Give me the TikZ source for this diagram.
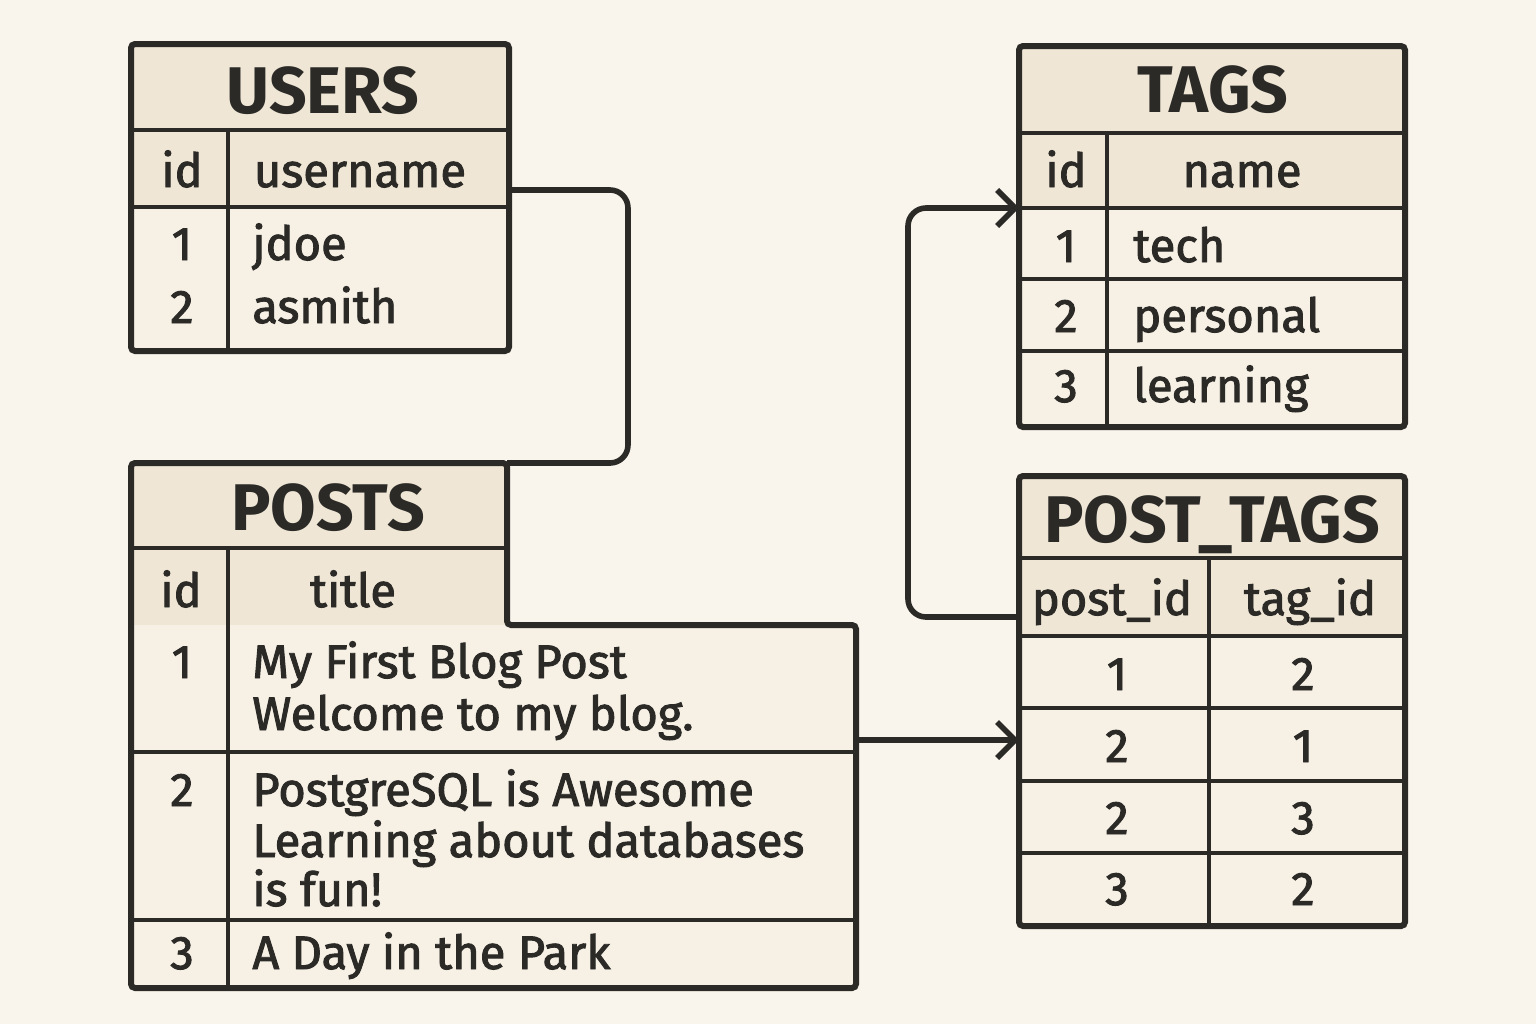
\documentclass[tikz,border=0pt]{standalone}
\usepackage{fontspec}
\setmainfont{Fira Sans}
\newfontfamily\bodyf[FakeBold=2]{Fira Sans}
\usetikzlibrary{arrows.meta}
\definecolor{bg}{HTML}{F9F5EC}
\definecolor{hdr}{HTML}{EFE6D5}
\definecolor{dat}{HTML}{F6F0E5}
\definecolor{ink}{HTML}{2B2A27}
\begin{document}
\begin{tikzpicture}[x=0.5pt,y=-0.5pt,
  outer/.style={draw=ink,line width=3pt,rounded corners=2pt},
  inner/.style={draw=ink,line width=2.4pt},
  conn/.style={draw=ink,line width=2.8pt,rounded corners=9pt},
  tip/.style={-{Straight Barb[length=9pt,width=18pt]}},
  ttl/.style={font=\fontsize{33}{36}\selectfont\bfseries,anchor=base,inner sep=0,text=ink},
  txt/.style={font=\bodyf\fontsize{23.5}{26}\selectfont,anchor=base,inner sep=0,text=ink},
  txtl/.style={txt,anchor=base west}]
\useasboundingbox (0,0) rectangle (1536,1024);
\fill[bg] (0,0) rectangle (1536,1024);

% ---------- USERS ----------
\fill[hdr] (131,44) rectangle (509,207);
\fill[dat] (131,207) rectangle (509,351);
\draw[inner] (131,130) -- (509,130) (131,207) -- (509,207) (228,130) -- (228,351);
\draw[outer] (131,44) rectangle (509,351);
\coordinate (usersR) at (509,190);
\node[ttl] (usersT) at (323,113) {USERS};
\node[txt] (usersH1) at (182,187) {id};
\node[txt] (usersH2) at (360,187) {username};
\node[txt] (usersId1) at (182,260) {1};
\node[txtl] (usersN1) at (252,260) {jdoe};
\node[txt] (usersId2) at (182,323) {2};
\node[txtl] (usersN2) at (252,323) {asmith};

% ---------- POSTS ----------
\fill[hdr] (131,463) rectangle (507,625);
\fill[dat] (131,625) rectangle (856,988);
\draw[inner] (131,548) -- (507,548) (131,752) -- (856,752) (131,920) -- (856,920) (228,548) -- (228,988);
\draw[outer] (131,463) -- (507,463) -- (507,625) -- (856,625) -- (856,988) -- (131,988) -- cycle;
\coordinate (postsTop) at (507,463);
\coordinate (postsR) at (856,740);
\node[ttl] (postsT) at (328,530) {POSTS};
\node[txt] (postsH1) at (181,607) {id};
\node[txt] (postsH2) at (353,607) {title};
\node[txt] (postsId1) at (182,678) {1};
\node[txtl] (postsA1) at (252,678) {My First Blog Post};
\node[txtl] (postsB1) at (252,730) {Welcome to my blog.};
\node[txt] (postsId2) at (182,806) {2};
\node[txtl] (postsA2) at (252,806) {PostgreSQL is Awesome};
\node[txtl] (postsB2) at (252,857) {Learning about databases};
\node[txtl] (postsC2) at (252,906) {is fun!};
\node[txt] (postsId3) at (182,969) {3};
\node[txtl] (postsA3) at (252,969) {A Day in the Park};

% ---------- TAGS ----------
\fill[hdr] (1019,46) rectangle (1405,208);
\fill[dat] (1019,208) rectangle (1405,427);
\draw[inner] (1019,133) -- (1405,133) (1019,208) -- (1405,208) (1019,279) -- (1405,279) (1019,351) -- (1405,351) (1107,133) -- (1107,427);
\draw[outer] (1019,46) rectangle (1405,427);
\coordinate (tagsL) at (1019,208);
\node[ttl] (tagsT) at (1213,112) {TAGS};
\node[txt] (tagsH1) at (1066,187) {id};
\node[txt] (tagsH2) at (1242,187) {name};
\node[txt] (tagsId1) at (1066,262) {1};
\node[txtl] (tagsN1) at (1133,262) {tech};
\node[txt] (tagsId2) at (1066,332) {2};
\node[txtl] (tagsN2) at (1133,332) {personal};
\node[txt] (tagsId3) at (1066,402) {3};
\node[txtl] (tagsN3) at (1133,402) {learning};

% ---------- POST_TAGS ----------
\fill[hdr] (1019,476) rectangle (1405,636);
\fill[dat] (1019,636) rectangle (1405,926);
\draw[inner] (1019,558) -- (1405,558) (1019,636) -- (1405,636) (1019,708) -- (1405,708) (1019,781) -- (1405,781) (1019,853) -- (1405,853) (1209,558) -- (1209,926);
\draw[outer] (1019,476) rectangle (1405,926);
\coordinate (ptL) at (1019,617);
\coordinate (ptIn) at (1019,740);
\node[ttl] (ptT) at (1212,542) {POST\_TAGS};
\node[txt] (ptH1) at (1112,615) {post\_id};
\node[txt] (ptH2) at (1310,615) {tag\_id};
\node[txt] (pt11) at (1117,690) {1};
\node[txt] (pt12) at (1303,690) {2};
\node[txt] (pt21) at (1117,762) {2};
\node[txt] (pt22) at (1303,762) {1};
\node[txt] (pt31) at (1117,834) {2};
\node[txt] (pt32) at (1303,834) {3};
\node[txt] (pt41) at (1117,905) {3};
\node[txt] (pt42) at (1303,905) {2};

% ---------- connectors ----------
\draw[conn] (usersR) -- (628,190) -- (628,463) -- (postsTop);
\draw[conn,tip] (postsR) -- (ptIn);
\draw[conn,tip] (ptL) -- (908,617) -- (908,208) -- (tagsL);
\end{tikzpicture}
\end{document}
